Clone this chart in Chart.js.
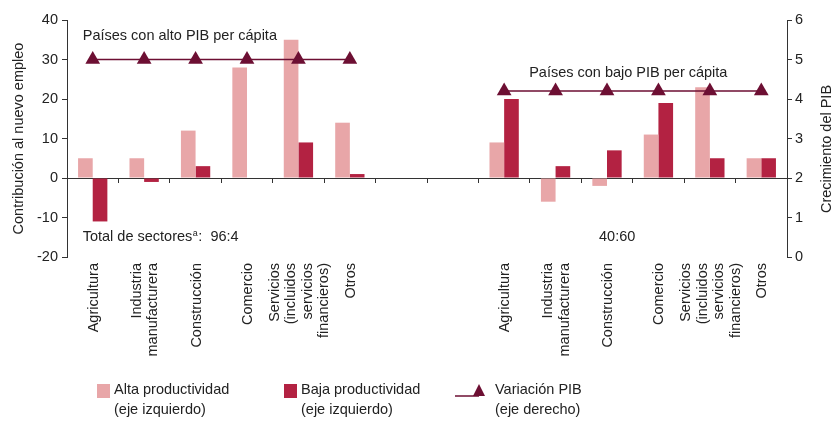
<!DOCTYPE html>
<html>
<head>
<meta charset="utf-8">
<script src="https://cdn.jsdelivr.net/npm/chart.js@4.4.0/dist/chart.umd.min.js"></script>
<style>
  body { margin: 0; background: #fff; }
  #wrap { position: relative; width: 833px; height: 421px; }
  #grafico { position: absolute; left: 0; top: 0; }
  .item { position: absolute; top: 379px; font: 14.5px "Liberation Sans", Arial, sans-serif; color: #222; line-height: 20px; }
  .item .marca { position: absolute; top: 5px; }
  .item .texto { position: absolute; white-space: nowrap; }
</style>
</head>
<body>
<div id="wrap">
  <canvas id="grafico" width="833" height="421"></canvas>
  <div id="leyenda"></div>
</div>
<script>
// Datos
const categorias = [
    "Agricultura", ["Industria", "manufacturera"], "Construcción", "Comercio",
    ["Servicios", "(incluidos", "servicios", "financieros)"], "Otros",
    "", "",
    "Agricultura", ["Industria", "manufacturera"], "Construcción", "Comercio",
    ["Servicios", "(incluidos", "servicios", "financieros)"], "Otros"
];
const altaProductividad = [5, 5, 12, 28, 35, 14, null, null, 9, -6, -2, 11, 23, 5];
const bajaProductividad = [-11, -1, 3, null, 9, 1, null, null, 20, 3, 7, 19, 5, 5];
const variacionPIB = [5, 5, 5, 5, 5, 5, null, null, 4.2, 4.2, 4.2, 4.2, 4.2, 4.2];
const ejeIzquierdo = [-20, 40, 10];   // min, max, paso
const ejeDerecho = [0, 6, 1];

const rosa = "#e8a6a8";
const rojo = "#b32242";
const granate = "#6d0f33";
const gris = "#333";
const fuente = '14.5px "Liberation Sans", Arial, sans-serif';

Chart.defaults.font.family = '"Liberation Sans", Arial, sans-serif';
Chart.defaults.font.size = 14.5;
Chart.defaults.color = "#222";

// etiquetas del eje x (varias líneas, centradas en la categoría)
const etiquetasX = {
    id: "etiquetasX",
    afterDraw(chart) {
        const { ctx, scales: { x }, chartArea } = chart;
        const alto = 16.5;
        ctx.save();
        ctx.font = fuente;
        ctx.fillStyle = "#222";
        ctx.textAlign = "right";
        ctx.textBaseline = "middle";
        chart.data.labels.forEach((lab, i) => {
            const lineas = Array.isArray(lab) ? lab : [lab];
            const cx = x.getPixelForValue(i);
            lineas.forEach((t, j) => {
                const off = (j - (lineas.length - 1) / 2) * alto;
                ctx.save();
                ctx.translate(cx + off + 1, chartArea.bottom + 6);
                ctx.rotate(-Math.PI / 2);
                ctx.fillText(t, 0, 0);
                ctx.restore();
            });
        });
        ctx.restore();
    }
};

// textos sobre el gráfico
const textos = {
    id: "textos",
    afterDraw(chart) {
        const { ctx, scales: { x, y, y1 } } = chart;
        ctx.save();
        ctx.font = fuente;
        ctx.fillStyle = "#222";
        ctx.textBaseline = "middle";
        ctx.fillText("Países con alto PIB per cápita", x.getPixelForValue(0) - 10, y.getPixelForValue(36));
        ctx.fillText("Países con bajo PIB per cápita", x.getPixelForValue(8) + 25, y.getPixelForValue(26.5));

        // Total de sectores con superíndice
        let px = x.getPixelForValue(0) - 10;
        const py = y.getPixelForValue(-15);
        ctx.fillText("Total de sectores", px, py);
        px += ctx.measureText("Total de sectores").width;
        ctx.font = '9px "Liberation Sans", Arial, sans-serif';
        ctx.fillText("a", px + 0.5, py - 4);
        px += ctx.measureText("a").width + 1;
        ctx.font = fuente;
        ctx.fillText(":  96:4", px, py);
        ctx.fillText("40:60", x.getPixelForValue(10) - 8, py);

        // título del eje derecho
        ctx.translate(y1.right - 6, 149);
        ctx.rotate(-Math.PI / 2);
        ctx.textAlign = "center";
        ctx.fillText("Crecimiento del PIB", 0, 0);
        ctx.restore();
    }
};

const ctx = document.getElementById("grafico").getContext("2d");
const grafico = new Chart(ctx, {
    type: "bar",
    data: {
        labels: categorias,
        datasets: [
            {
                label: ["Alta productividad", "(eje izquierdo)"],
                data: altaProductividad,
                backgroundColor: rosa,
                yAxisID: "y",
                order: 1,
                categoryPercentage: 0.57,
                barPercentage: 1
            },
            {
                label: ["Baja productividad", "(eje izquierdo)"],
                data: bajaProductividad,
                backgroundColor: rojo,
                yAxisID: "y",
                order: 1,
                categoryPercentage: 0.57,
                barPercentage: 1
            },
            {
                type: "line",
                label: ["Variación PIB", "(eje derecho)"],
                data: variacionPIB,
                yAxisID: "y1",
                borderColor: granate,
                backgroundColor: granate,
                borderWidth: 1.5,
                pointStyle: "triangle",
                pointRadius: 8.5,
                pointHoverRadius: 8.5,
                pointBorderWidth: 0,
                spanGaps: false,
                order: 0
            }
        ]
    },
    options: {
        responsive: false,
        animation: false,
        events: [],
        layout: { padding: { top: 20, bottom: 64, left: 0, right: 0 } },
        plugins: {
            legend: { display: false },
            tooltip: { enabled: false }
        },
        scales: {
            x: {
                position: "bottom",
                grid: { display: false },
                border: { display: false },
                ticks: { display: false },
                afterFit: (s) => { s.height = 100; }
            },
            x2: {
                type: "category",
                position: { y: 0 },
                offset: true,
                grid: { offset: true, drawOnChartArea: false, drawTicks: true, tickLength: 5, color: gris },
                border: { display: false },
                ticks: { display: false }
            },
            y: {
                position: "left",
                min: ejeIzquierdo[0],
                max: ejeIzquierdo[1],
                ticks: { stepSize: ejeIzquierdo[2], padding: 4, color: "#222" },
                grid: {
                    color: (c) => (c.tick && c.tick.value === 0 ? gris : "transparent"),
                    tickColor: gris,
                    tickLength: 5
                },
                border: { color: gris },
                title: { display: true, text: "Contribución al nuevo empleo", color: "#222", padding: { top: 10, bottom: 0 } },
                afterFit: (s) => { s.width = 67; }
            },
            y1: {
                position: "right",
                min: ejeDerecho[0],
                max: ejeDerecho[1],
                ticks: { stepSize: ejeDerecho[2], padding: 3, color: "#222" },
                grid: { drawOnChartArea: false, tickColor: gris, tickLength: 5 },
                border: { color: gris },
                afterFit: (s) => { s.width = 46; }
            }
        }
    },
    plugins: [etiquetasX, textos]
});

// Leyenda
const posiciones = [97, 284, 455];
const leyenda = document.getElementById("leyenda");
grafico.data.datasets.forEach((ds, i) => {
    const item = document.createElement("div");
    item.className = "item";
    item.style.left = posiciones[i] + "px";
    let marca;
    let desplazamiento;
    if (ds.type === "line") {
        marca = '<svg class="marca" width="32" height="16" style="left:0;top:4px">' +
            '<line x1="0" y1="13" x2="24" y2="13" stroke="' + ds.borderColor + '" stroke-width="1.5"/>' +
            '<polygon points="24,1 30,13 18,13" fill="' + ds.backgroundColor + '"/></svg>';
        desplazamiento = 40;
    } else {
        marca = '<div class="marca" style="left:0;width:13px;height:14px;background:' + ds.backgroundColor + '"></div>';
        desplazamiento = 17;
    }
    item.innerHTML = marca + '<div class="texto" style="left:' + desplazamiento + 'px">' + ds.label.join("<br>") + "</div>";
    leyenda.appendChild(item);
});
</script>
</body>
</html>
